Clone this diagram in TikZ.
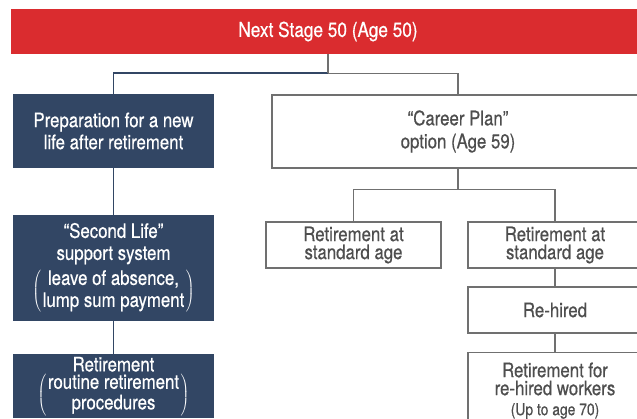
\documentclass[tikz,border=0pt]{standalone}
\usepackage{fontspec}
\setmainfont{TeX Gyre Heros}[FakeStretch=0.84,FakeBold=0.5]
\definecolor{nsred}{RGB}{218,44,47}
\definecolor{navy}{RGB}{50,70,100}
\definecolor{linegray}{RGB}{112,112,112}
\definecolor{textgray}{RGB}{78,78,78}
\newcommand\fsz[2]{\fontsize{#1}{#2}\selectfont}
\newcommand\pbrack[1]{$\left(\hspace{1.5pt}\begin{tabular}{@{}c@{}}#1\end{tabular}\hspace{1.5pt}\right)$}
\tikzset{
  redbar/.style={fill=nsred, text=white, minimum width=634pt, minimum height=45pt,
    inner sep=0pt, font=\fsz{20.5}{22}},
  navybox/.style={fill=navy, text=white, minimum width=201pt, align=center,
    inner sep=0pt, font=\fsz{20}{22}},
  graybox/.style={draw=linegray, line width=1.3pt, fill=white, text=textgray,
    align=center, inner sep=0pt, font=\fsz{20}{18}},
  navyline/.style={draw=navy, line width=1.4pt},
  grayline/.style={draw=linegray, line width=1.3pt},
}
\begin{document}
\begin{tikzpicture}[x=1pt,y=-1pt]
\useasboundingbox (0,0) rectangle (637,419);
\clip (0,0) rectangle (637,419);

% top bar
\node[redbar] (top) at (328,31.5) {Next Stage 50 (Age 50)};

% left column
\node[navybox, minimum height=74pt] (prep) at (113.5,131)
  {Preparation for a new\\life after retirement};
\node[navybox, minimum height=106pt] (second) at (113.5,268)
  {\begin{tabular}{@{}c@{}}\fsz{20}{20}“Second Life”\\support system\\[3pt]
   \fsz{20}{22}\pbrack{leave of absence,\\lump sum payment}\end{tabular}};
\node[navybox, minimum height=64pt] (retire) at (113.5,386)
  {\begin{tabular}{@{}c@{}}\fsz{20}{18}Retirement\\[-4pt]
   \fsz{20}{20}\pbrack{routine retirement\\procedures}\end{tabular}};

% right column
\node[graybox, minimum width=372pt, minimum height=73pt, font=\fsz{20}{23}] (career) at (458,131.5)
  {“Career Plan”\\option (Age 59)};
\node[graybox, minimum width=175pt, minimum height=46pt] (stdA) at (353.5,245)
  {Retirement at\\standard age};
\node[graybox, minimum width=174pt, minimum height=46pt] (stdB) at (555,245)
  {Retirement at\\standard age};
\node[graybox, minimum width=174pt, minimum height=46pt] (rehired) at (555,310)
  {Re-hired};
\node[graybox, minimum width=174pt, minimum height=76pt, anchor=north] (rehiredret) at (555,352)
  {Retirement for\\re-hired workers\\[2pt]{\fsz{16.5}{18}(Up to age 70)}};

% connectors
\draw[grayline] (top.south) -- ++(0,19) coordinate (split) -| (career.north);
\draw[navyline] (split) -| (prep.north);
\draw[grayline] (top.south) -- (split);
\draw[navyline] (prep.south) -- (second.north);
\draw[navyline] (second.south) -- (retire.north);
\draw[grayline] (career.south) -- ++(0,21) coordinate (csplit) -| (stdA.north);
\draw[grayline] (csplit) -| (stdB.north);
\draw[grayline] (stdB.south) -- (rehired.north);
\draw[grayline] (rehired.south) -- (rehiredret.north);
\end{tikzpicture}
\end{document}
